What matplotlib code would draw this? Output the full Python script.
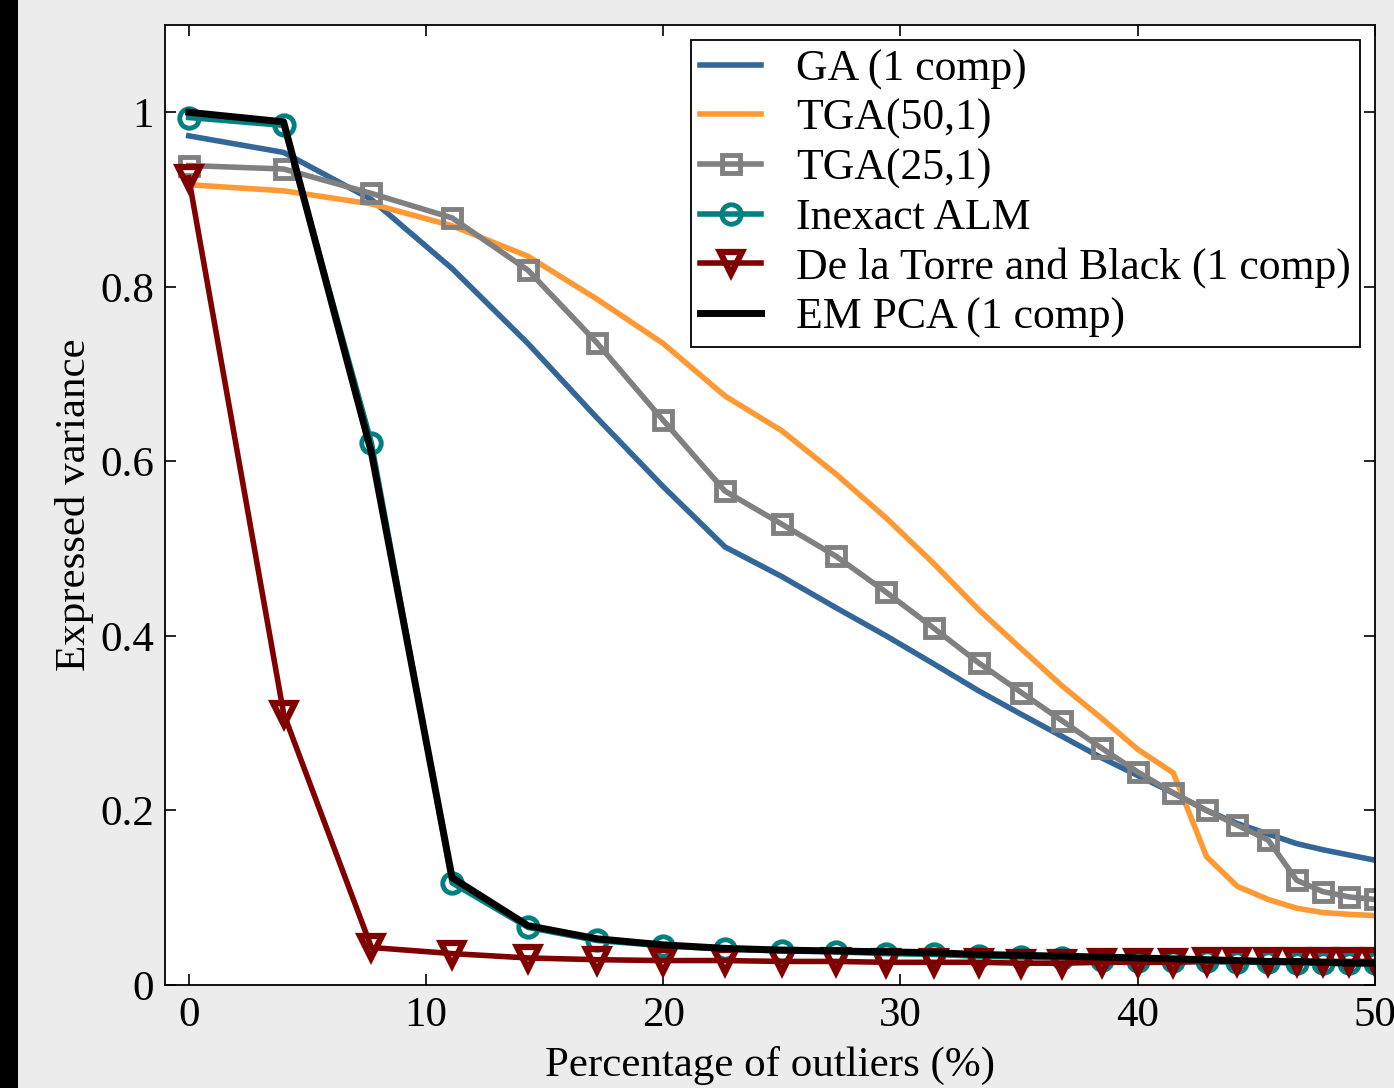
import numpy as np
import matplotlib
matplotlib.use('Agg')
import matplotlib.pyplot as plt
from matplotlib.patches import Rectangle

plt.rcParams['font.family'] = ['Liberation Serif', 'DejaVu Serif']
plt.rcParams['mathtext.fontset'] = 'stix'

# percentage of outliers (x axis)
pct = [0, 4.0, 7.7, 11.1, 14.3, 17.2, 20.0, 22.6, 25.0, 27.3, 29.4, 31.4, 33.3,
       35.1, 36.8, 38.5, 40.0, 41.5, 42.9, 44.2, 45.5, 46.7, 47.8, 48.9, 50.0]

ga = [0.973, 0.954, 0.900, 0.821, 0.735, 0.650, 0.571, 0.502, 0.468, 0.432, 0.400,
      0.368, 0.337, 0.310, 0.285, 0.260, 0.240, 0.220, 0.200, 0.185, 0.173, 0.162,
      0.155, 0.149, 0.143]
tga50 = [0.917, 0.910, 0.895, 0.870, 0.835, 0.786, 0.735, 0.675, 0.635, 0.585, 0.535,
         0.483, 0.430, 0.385, 0.343, 0.305, 0.270, 0.243, 0.147, 0.113, 0.098, 0.088,
         0.083, 0.081, 0.0795]
tga25 = [0.939, 0.935, 0.907, 0.879, 0.819, 0.736, 0.647, 0.566, 0.528, 0.491, 0.450,
         0.409, 0.369, 0.335, 0.303, 0.271, 0.244, 0.220, 0.200, 0.183, 0.166, 0.120,
         0.107, 0.101, 0.098]
alm = [0.994, 0.985, 0.621, 0.117, 0.066, 0.051, 0.045, 0.041, 0.039, 0.038, 0.036,
       0.035, 0.033, 0.032, 0.031, 0.029, 0.028, 0.027, 0.027, 0.026, 0.026, 0.025,
       0.025, 0.025, 0.025]
dlt = [0.925, 0.311, 0.043, 0.036, 0.031, 0.029, 0.028, 0.028, 0.027, 0.027, 0.026,
       0.026, 0.026, 0.025, 0.025, 0.026, 0.026, 0.026, 0.027, 0.027, 0.027, 0.027,
       0.027, 0.027, 0.027]
empca = [1.000, 0.989, 0.610, 0.123, 0.068, 0.053, 0.046, 0.042, 0.040, 0.039, 0.038,
         0.037, 0.035, 0.034, 0.033, 0.032, 0.031, 0.030, 0.029, 0.028, 0.027, 0.027,
         0.026, 0.025, 0.025]

fig = plt.figure(figsize=(13.94, 10.88), dpi=100, facecolor='#ececec')
fig.patches.append(Rectangle((0, 0), 18 / 1394, 1, transform=fig.transFigure,
                             facecolor='black', edgecolor='none'))
ax = fig.add_axes([165 / 1394, 103 / 1088, 1210 / 1394, 960 / 1088])

ax.plot(pct, ga, color='#336699', lw=4, label='GA (1 comp)')
ax.plot(pct, tga50, color='#ff9933', lw=4, label='TGA(50,1)')
ax.plot(pct, tga25, color='#808080', lw=4, marker='s', ms=13, mfc='none', mew=3.5,
        label='TGA(25,1)')
ax.plot(pct, alm, color='#008080', lw=4, marker='o', ms=14, mfc='none', mew=3.5,
        label='Inexact ALM')
ax.plot(pct, dlt, color='#800000', lw=4, marker='v', ms=16, mfc='none', mew=4.5,
        label='De la Torre and Black (1 comp)')
ax.plot(pct, empca, color='black', lw=5, label='EM PCA (1 comp)')

ax.set_xlim(-1, 50)
ax.set_ylim(0, 1.1)
ax.set_xticks([0, 10, 20, 30, 40, 50])
ax.set_yticks([0, 0.2, 0.4, 0.6, 0.8, 1.0])
ax.set_yticklabels(['0', '0.2', '0.4', '0.6', '0.8', '1'])
ax.tick_params(direction='in', length=8, width=1.2, labelsize=31, pad=8,
               top=True, right=True)
for s in ax.spines.values():
    s.set_linewidth(1.3)

ax.set_xlabel('Percentage of outliers (%)', fontsize=31, labelpad=8)
ax.set_ylabel('Expressed variance', fontsize=31, labelpad=4)

leg = ax.legend(loc='upper right', fontsize=31.5, frameon=True, fancybox=False,
                edgecolor='black', framealpha=1, handlelength=1.4, handletextpad=0.8,
                labelspacing=0.21, borderpad=0.2, borderaxespad=0.35)
leg.get_frame().set_linewidth(1.3)

fig.savefig('out.png', dpi=100, facecolor=fig.get_facecolor())
